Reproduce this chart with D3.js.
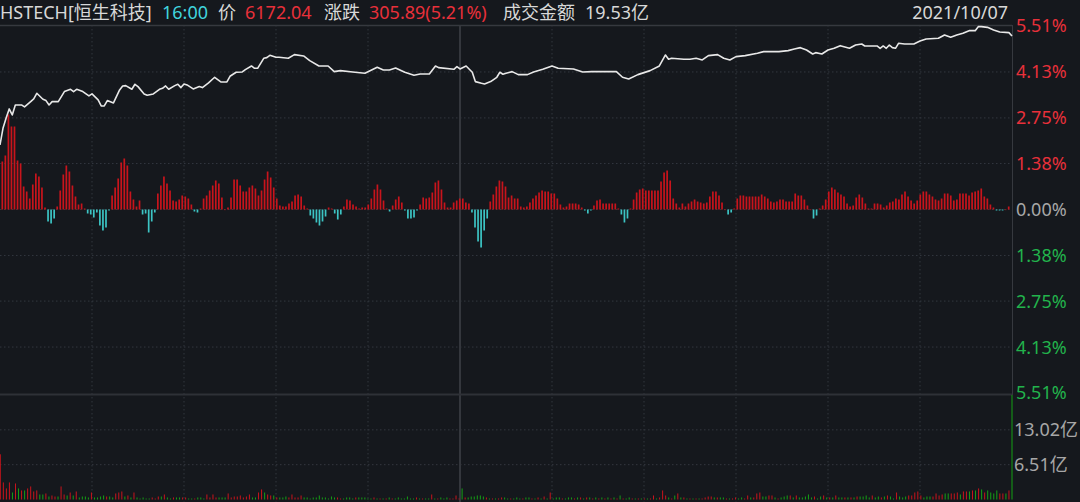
<!DOCTYPE html>
<html><head><meta charset="utf-8">
<script src="https://cdn.jsdelivr.net/npm/d3@7"></script>
<style>
html,body{margin:0;padding:0;background:#15181d;overflow:hidden;}
svg{display:block;}
text{font-family:"Noto Sans","Noto Sans CJK SC",sans-serif;}
</style></head><body><svg id="c" width="1080" height="502"></svg>
<script>
// ---------- header data ----------
const symbolName = "HSTECH[恒生科技]";
const quoteTime = "16:00";
const lastPrice = "6172.04";
const changeText = "305.89(5.21%)";
const turnoverText = "19.53亿";
const tradeDate = "2021/10/07";

// ---------- axis data ----------
const pctTicks = [5.51, 4.13, 2.75, 1.38, 0, -1.38, -2.75, -4.13, -5.51];
const volTicks = [13.02, 6.51];
const volMax = 19.53;
const sessionMinutes = 330;        // 09:30-12:00 + 13:00-16:00
const lunchMinute = 150;
const gridMinutes = [30, 60, 90, 120, 180, 210, 240, 270, 300];

// ---------- price line (minute index, % change) ----------
const lineMinute = [0,1,2,3,4,5,7,8,10,11,12,14,15,16,17,19,21,23,24,25,27,29,30,32,33,34,35,37,39,40,41,43,44,45,47,48,50,52,53,54,55,57,58,59,60,61,63,65,66,68,70,72,74,75,77,79,80,82,83,84,86,87,88,90,91,94,96,99,101,104,107,109,111,115,119,123,125,127,129,132,135,137,140,142,143,148,149,150,152,154,155,157,158,160,162,163,164,165,167,169,172,174,177,180,182,187,190,193,201,203,205,208,212,215,217,218,219,223,225,227,229,231,234,236,238,240,243,247,249,254,257,259,261,263,265,266,268,270,272,274,277,279,281,282,286,287,288,289,290,291,292,293,295,298,300,302,306,308,310,312,314,316,318,319,320,322,324,326,329,330];
const linePct = [1.94,2.45,2.75,3.02,2.84,3.14,3.14,3.08,3.24,3.32,3.49,3.31,3.27,3.14,3.24,3.24,3.54,3.61,3.54,3.61,3.54,3.41,3.47,3.29,3.11,3.11,3.27,3.20,3.59,3.71,3.72,3.61,3.76,3.69,3.47,3.43,3.47,3.61,3.64,3.71,3.61,3.72,3.76,3.66,3.77,3.74,3.62,3.69,3.66,3.80,3.97,3.83,3.83,4.00,4.12,4.13,4.20,4.31,4.24,4.24,4.54,4.56,4.63,4.57,4.57,4.54,4.65,4.61,4.47,4.31,4.31,4.14,4.17,4.13,4.09,4.27,4.19,4.19,4.25,4.12,4.03,4.07,4.07,4.31,4.26,4.21,4.29,4.22,4.31,4.12,3.84,3.79,3.77,3.84,3.97,4.12,4.06,4.09,4.14,4.05,4.05,4.13,4.21,4.31,4.24,4.22,4.13,4.14,4.14,3.97,3.92,4.05,4.17,4.31,4.64,4.51,4.54,4.51,4.51,4.54,4.49,4.62,4.65,4.54,4.49,4.59,4.62,4.69,4.74,4.74,4.77,4.82,4.86,4.79,4.67,4.71,4.67,4.79,4.84,4.92,4.84,4.94,4.97,4.91,4.91,4.84,4.91,4.84,4.94,4.86,4.84,4.99,4.97,4.97,5.06,5.12,5.14,5.24,5.17,5.24,5.29,5.37,5.37,5.49,5.49,5.47,5.39,5.33,5.31,5.21];

// ---------- money-flow bars (arbitrary units, + buy / - sell) ----------
const flowValues = [48,54,95,83,83,49,46,23,18,11,25,36,33,22,2,-12,-14,-9,3,19,35,44,38,24,13,5,6,1,-4,-5,-8,-3,-16,-21,-18,-1,14,22,31,47,51,44,18,10,3,9,-5,-4,-23,-12,-3,16,24,33,26,19,9,8,10,14,13,11,5,-2,-3,1,11,14,19,24,29,26,12,0,2,12,30,30,24,18,18,22,24,21,14,19,30,38,32,22,11,4,3,3,6,8,14,15,
13,4,1,-6,-9,-13,-16,-12,-7,2,1,-4,-10,-5,3,10,9,5,3,1,2,2,5,11,20,25,20,9,1,-2,4,10,13,7,-1,-9,-9,-8,-1,5,12,11,12,17,27,29,20,7,2,2,7,9,11,11,7,6,-3,-18,-32,-38,-21,-9,8,15,23,29,28,23,12,14,11,11,3,2,3,7,11,14,17,19,18,18,16,16,11,5,2,3,6,6,6,5,2,-1,-4,-1,4,9,10,6,6,6,6,6,1,-5,-13,-9,1,10,17,20,21,19,19,19,19,19,28,37,39,29,11,6,2,6,3,6,8,10,8,
7,6,7,13,18,18,14,7,0,-5,-3,1,11,14,14,13,13,13,13,13,15,13,11,8,7,8,10,10,8,8,8,16,14,14,10,4,0,-9,-6,1,4,10,18,22,20,17,15,13,6,3,4,12,15,12,6,1,1,6,6,5,2,4,7,8,11,10,15,18,13,9,6,9,15,18,18,15,13,10,9,11,16,16,14,9,10,16,16,16,14,17,18,19,21,13,11,5,2,-1,-1,-1,0,3];

// ---------- turnover per minute (亿) and direction (R up / G down) ----------
const volumeYi = [8.45,3.19,2.07,3.19,1.31,3.00,2.07,1.69,1.69,2.07,2.44,1.50,1.69,0.94,0.94,1.13,0.56,0.75,0.56,0.56,
2.44,0.94,0.75,1.31,0.75,1.50,0.38,0.56,0.56,0.38,1.31,0.38,0.38,0.56,0.75,0.56,0.56,0.38,1.13,1.31,
1.50,0.56,0.75,0.38,1.31,0.38,0.19,0.38,0.19,0.19,0.38,0.19,0.56,0.56,0.94,0.38,0.19,0.38,0.38,0.38,
0.38,0.38,0.19,0.19,0.19,0.38,0.38,0.19,0.94,0.38,0.94,0.38,0.38,0.38,0.38,1.13,0.38,0.56,0.56,0.75,
0.38,0.56,0.94,0.38,0.38,1.31,1.88,1.31,0.94,0.75,0.75,0.38,0.38,0.38,0.56,0.38,0.94,0.38,0.38,0.75,
0.38,0.38,0.19,0.38,0.38,0.75,0.38,0.38,0.19,0.56,0.38,0.38,0.19,0.19,0.38,0.38,0.19,0.38,0.38,0.38,
0.38,0.19,0.19,0.38,0.19,0.19,0.19,0.19,0.38,0.19,0.19,0.38,0.19,0.19,0.56,0.19,0.19,0.38,0.19,0.19,
0.19,0.19,0.94,0.19,0.19,0.38,0.19,0.38,0.19,0.19,0.75,0.19,2.07,0.38,0.38,0.56,0.56,0.75,0.75,0.56,
0.38,0.19,0.19,0.19,0.19,0.38,0.38,0.19,0.19,0.19,0.38,0.19,0.19,0.38,0.38,0.19,0.19,0.38,0.19,0.56,
0.19,1.31,0.19,0.38,0.38,0.19,0.19,0.38,0.38,0.19,0.38,0.38,0.19,0.38,0.38,0.19,0.38,0.19,0.38,0.19,
0.38,0.19,0.38,0.19,0.75,0.19,0.19,0.38,0.19,0.19,0.19,0.19,0.19,0.19,0.19,0.75,0.19,0.38,1.69,0.75,
0.38,0.19,0.75,1.13,0.38,0.38,0.19,0.19,0.19,0.19,0.19,0.19,0.38,0.56,0.56,0.38,0.38,0.38,0.38,0.19,
0.19,0.19,0.38,0.19,0.38,0.19,0.75,0.38,0.38,1.13,1.31,0.56,0.56,0.75,0.75,0.38,0.19,0.38,0.56,0.75,
0.75,0.38,0.75,0.38,0.38,0.56,0.94,0.38,0.56,0.19,0.56,0.75,0.38,0.38,0.38,0.75,0.38,0.38,0.38,0.38,
0.38,0.38,0.56,0.56,0.56,0.75,0.38,0.75,0.38,0.56,0.38,0.56,0.75,0.56,0.19,1.31,0.56,0.38,0.56,0.75,
0.75,1.31,1.50,0.75,0.38,0.56,0.56,0.56,1.13,0.75,0.94,1.13,1.13,1.13,1.13,1.31,0.94,1.50,1.50,1.50,
1.69,1.69,2.07,1.88,1.31,1.69,1.31,1.13,1.69,1.13,1.13,1.13,1.69,19.53];
const volumeDir = ("RRRRGRGRGRRRRGGRGRRG"+"RRGRGRGGGGRGGGGRGGRR"+"RGRGRGGGGGRRRGRGGRGG"+"RRGGRGGGRRRRGGGRRRRR"+
"RRRGGRRGRRGRGGGRRRRR"+"GGGGGGGGGGGRRGGGGRGG"+"GGGRGRGRGRGGGGGGGRGR"+"GGRGRGGGRRRRGRGGGGGG"+
"RGRGRRGGRGGGRGGRGRGR"+"GRGGGRGGGRGRGRGRGRGR"+"GRGRGRGGRGRGRGRRGRRR"+"GRGRGRGRGRGRRRRGRGGR"+
"GRRGGRRGRRRGGRRGRGGG"+"RGRGGGGGRGGRGRGRGGRG"+"RGRGGGGRGGRGRGGRGGGR"+"RRRRGGGRRRRGGRRRGRRG"+
"RGRGRGGGGRRGRG").split("");

// ---------- layout ----------
const W = 1080, H = 502;
const plotL = 0, plotR = 1012;
const mainTop = 26, mainBot = 393, volTop = 395, volBot = 499.5;

const svg = d3.select("#c");
svg.append("rect").attr("width", W).attr("height", H).attr("fill", "#15181d");

const x = d3.scaleLinear().domain([0, sessionMinutes]).range([plotL, plotR]);
const y = d3.scaleLinear().domain([-5.51, 5.51]).range([mainBot, mainTop]);
const zeroY = y(0);
const flowX = d3.scaleLinear().domain([0, flowValues.length - 1]).range([2.3, 1008.7]);
const flowY = d3.scaleLinear().domain([-100, 100]).range([zeroY + 100, zeroY - 100]);
const volX = d3.scaleLinear().domain([0, volumeYi.length - 1]).range([0.3, plotR]);
const volY = d3.scaleLinear().domain([0, volMax]).range([volBot, volTop]);

const gridCol = "#33373f", borderCol = "#36393f";

// horizontal dotted grid (main)
svg.append("g").selectAll("line").data(pctTicks.filter(t => Math.abs(t) < 5.5)).join("line")
  .attr("x1", plotL).attr("x2", plotR).attr("y1", d => y(d)).attr("y2", d => y(d))
  .attr("stroke", gridCol).attr("stroke-width", 1).attr("stroke-dasharray", "1.5,2.5");
// horizontal dotted grid (volume)
svg.append("g").selectAll("line").data(volTicks).join("line")
  .attr("x1", plotL).attr("x2", plotR).attr("y1", d => volY(d)).attr("y2", d => volY(d))
  .attr("stroke", gridCol).attr("stroke-width", 1).attr("stroke-dasharray", "1.5,2.5");
// vertical dotted grid
svg.append("g").selectAll("line").data(gridMinutes).join("line")
  .attr("x1", d => x(d)).attr("x2", d => x(d)).attr("y1", 25).attr("y2", volBot + 2)
  .attr("stroke", gridCol).attr("stroke-width", 1).attr("stroke-dasharray", "1.5,2.5");
// lunch break line
svg.append("line").attr("x1", x(lunchMinute)).attr("x2", x(lunchMinute)).attr("y1", 25).attr("y2", H)
  .attr("stroke", "#34373d").attr("stroke-width", 2);
// borders
svg.append("line").attr("x1", 0).attr("x2", plotR).attr("y1", 25.5).attr("y2", 25.5).attr("stroke", borderCol).attr("stroke-width", 1.5);
svg.append("line").attr("x1", 0).attr("x2", plotR).attr("y1", 394.5).attr("y2", 394.5).attr("stroke", "#2e3137").attr("stroke-width", 2);
svg.append("line").attr("x1", plotR + 0.5).attr("x2", plotR + 0.5).attr("y1", 25).attr("y2", 395).attr("stroke", borderCol).attr("stroke-width", 1);

// money-flow bars
svg.append("g").selectAll("rect").data(flowValues).join("rect")
  .attr("x", (d, i) => flowX(i) - 0.85).attr("width", 1.7)
  .attr("y", d => d >= 0 ? flowY(d) : zeroY)
  .attr("height", d => Math.max(0.6, Math.abs(flowY(d) - zeroY)))
  .attr("fill", d => d >= 0 ? "#c8141c" : "#3cc4c4");

// volume bars
svg.append("g").selectAll("rect").data(volumeYi).join("rect")
  .attr("x", (d, i) => volX(i) - 0.5).attr("width", 1)
  .attr("y", d => volY(d)).attr("height", d => volBot - volY(d))
  .attr("fill", (d, i) => volumeDir[i] === "R" ? "#c8141c" : "#15a015");

// price line
const pts = lineMinute.map((m, i) => [x(m), y(linePct[i])]);
svg.append("path").attr("d", d3.line()(pts)).attr("fill", "none")
  .attr("stroke", "#e8e8e8").attr("stroke-width", 1.6).attr("stroke-linejoin", "round");

// right axis labels
const fmt = d => Math.abs(d).toFixed(2) + "%";
svg.append("g").selectAll("text").data(pctTicks).join("text")
  .attr("x", 1016).attr("y", d => y(d)).attr("dy", "0.36em")
  .attr("font-size", 18)
  .attr("fill", d => d > 0 ? "#e8303a" : d < 0 ? "#22b34c" : "#a7a7a7")
  .text(fmt);
svg.append("g").selectAll("text").data(volTicks).join("text")
  .attr("x", 1014).attr("y", d => volY(d)).attr("dy", "0.36em")
  .attr("font-size", 18).attr("fill", "#a7a7a7")
  .text(d => d.toFixed(2) + "亿");

// header
const headerParts = [
  [symbolName, "#d8d8d8", 0], [quoteTime, "#40d4dd", 162], ["价", "#d8d8d8", 218],
  [lastPrice, "#e8303a", 245], ["涨跌", "#d8d8d8", 324], [changeText, "#e8303a", 369],
  ["成交金额", "#d8d8d8", 503], [turnoverText, "#d8d8d8", 585]
];
svg.append("g").selectAll("text").data(headerParts).join("text")
  .attr("x", d => d[2]).attr("y", 18.5).attr("font-size", 18).attr("fill", d => d[1]).text(d => d[0]);
svg.append("text").attr("x", 1008).attr("y", 18.5).attr("text-anchor", "end")
  .attr("font-size", 18).attr("fill", "#d8d8d8").text(tradeDate);
</script></body></html>
